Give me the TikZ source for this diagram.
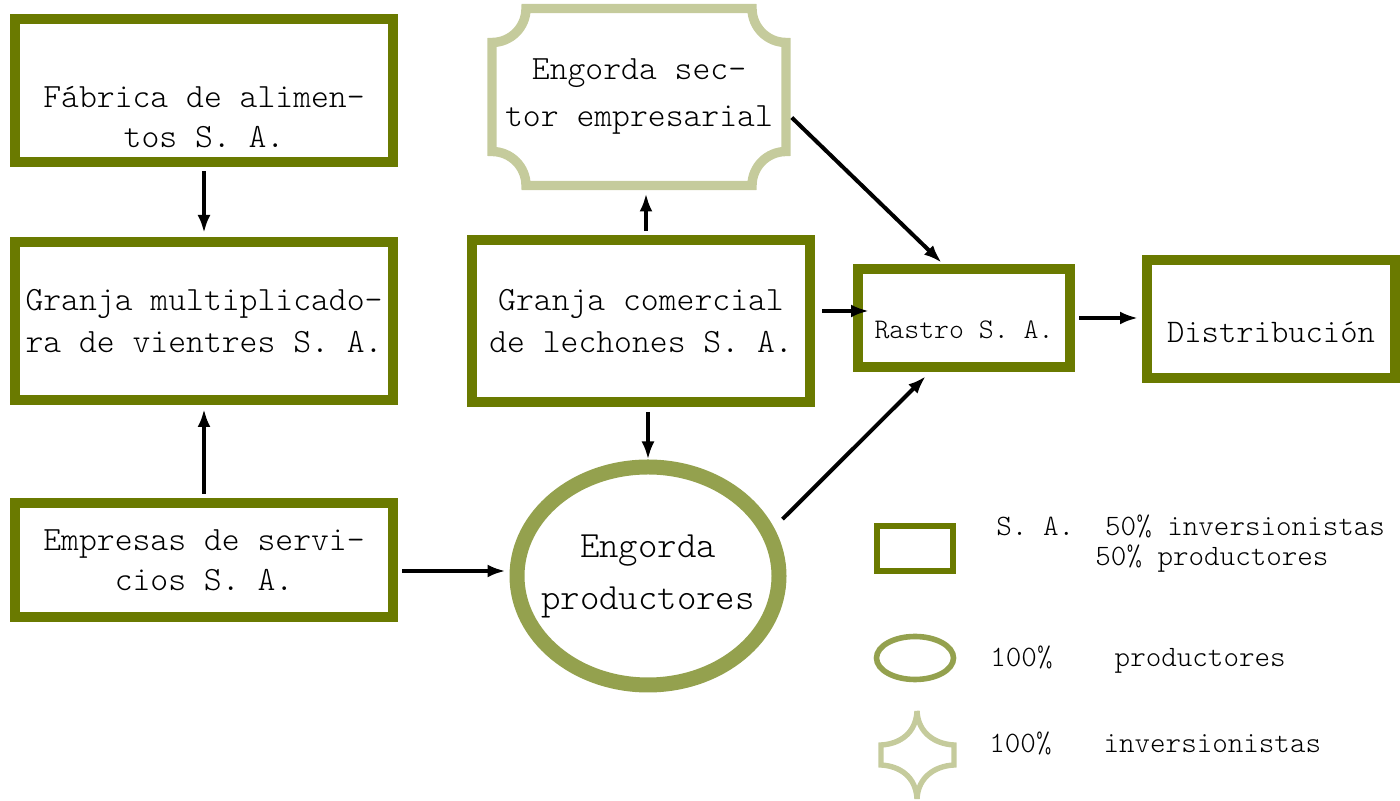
\documentclass[tikz,border=0pt]{standalone}
\usepackage{fontspec}
\newfontfamily\courfont{lmmonolt10-regular.otf}
\usetikzlibrary{arrows.meta,positioning,shapes.geometric}
\definecolor{OliveDark}{HTML}{6A7A00}
\definecolor{OliveMid}{HTML}{94A14E}
\definecolor{OliveLight}{HTML}{C5CB9C}
\newcommand{\boxfont}{\courfont\fontsize{17}{21}\selectfont}
\newcommand{\legfont}{\courfont\fontsize{14.8}{17}\selectfont}

\begin{document}
\begin{tikzpicture}[x=0.5pt,y=0.5pt,
    sabox/.style={rectangle,draw=OliveDark,line width=5pt,fill=white,
                  inner sep=0pt,align=center,font=\boxfont},
    lbl/.style={inner sep=0pt,align=center,font=\boxfont},
    legtxt/.style={inner sep=0pt,anchor=west,font=\legfont},
    flow/.style={line width=2pt,-{Latex[length=9pt,width=6.5pt]},
                 shorten <=2pt,shorten >=2pt}]
  \useasboundingbox (0,0) rectangle (1400,801);

  % sociedades anonimas
  \node[sabox,minimum width=189pt,minimum height=71.5pt] (fab) at (204,710) {};
  \node[lbl,font=\courfont\fontsize{17}{20}\selectfont] (fabtxt)
       at ([yshift=-13pt]fab.center) {Fábrica de alimen-\\tos S. A.};
  \node[sabox,minimum width=189pt,minimum height=79pt] (gmul) at (204,480)
       {Granja multiplicado-\\ra de vientres S. A.};
  \node[sabox,minimum width=189pt,minimum height=57pt,
        font=\courfont\fontsize{17}{20}\selectfont] (emp) at (204,241)
       {Empresas de servi-\\cios S. A.};
  \node[sabox,minimum width=169pt,minimum height=81pt] (gcom) at (641,480)
       {Granja comercial\\de lechones S. A.};
  \node[sabox,minimum width=106pt,minimum height=49pt] (rastro) at (964,483) {};
  \node[lbl,font=\courfont\fontsize{14.2}{15}\selectfont] (rastrotxt)
       at ([yshift=-6pt]rastro.center) {Rastro S. A.};
  \node[sabox,minimum width=124pt,minimum height=59pt] (dist) at (1271,482) {};
  \node[lbl,font=\courfont\fontsize{16.5}{18}\selectfont] (disttxt)
       at ([yshift=-6.5pt]dist.center) {Distribución};

  % inversionistas
  \node[lbl,minimum width=147pt,minimum height=88.5pt,outer sep=0pt,
        font=\courfont\fontsize{17}{23.5}\selectfont] (sector) at (639,704)
       {Engorda sec-\\tor empresarial};
  \draw[OliveLight,line width=4.7pt]
    ([yshift=-17pt]sector.north west) arc[start angle=-90,end angle=0,radius=17pt]
    -- ([xshift=-17pt]sector.north east) arc[start angle=180,end angle=270,radius=17pt]
    -- ([yshift=17pt]sector.south east) arc[start angle=90,end angle=180,radius=17pt]
    -- ([xshift=17pt]sector.south west) arc[start angle=0,end angle=90,radius=17pt]
    -- cycle;

  % productores
  \node[ellipse,draw=OliveMid,line width=7.5pt,minimum width=131pt,
        minimum height=109pt,inner sep=0pt] (prod) at (648,225) {};
  \node[lbl,font=\courfont\fontsize{18.5}{26}\selectfont] (prodtxt)
       at (prod.center) {Engorda\\productores};

  % flechas
  \draw[flow] (fab.south) -- (gmul.north);
  \draw[flow] (emp.north) -- (gmul.south);
  \draw[flow] ([yshift=-5.5pt]emp.east) -- ([yshift=-5.5pt]emp.east -| prod.west);
  \draw[flow,shorten >=4pt] ([xshift=2.5pt]gcom.north)
       -- ([xshift=2.5pt]gcom.north |- sector.south);
  \draw[flow,shorten <=2.5pt,shorten >=0pt] (gcom.south -| prod.north) -- (prod.north);
  \draw[flow,shorten <=3.5pt,shorten >=-8pt] ([yshift=5pt]gcom.east)
       -- ([yshift=5pt]gcom.east -| rastro.west);
  \draw[flow,shorten <=4pt,shorten >=1pt] ([yshift=-7.5pt]sector.east)
       -- ([xshift=-10.5pt]rastro.north);
  \draw[flow,shorten <=6pt,shorten >=3pt] (prod.21) -- ([xshift=-17pt]rastro.south);
  \draw[flow] (rastro.east) -- (rastro.east -| dist.west);

  % leyenda
  \node[sabox,line width=3pt,minimum width=38pt,minimum height=22.5pt] (legsa)
       at (915,252) {};
  \node[legtxt] (legsa1) at (996,275) {S.~A.~~50\% inversionistas};
  \node[legtxt] (legsa2) at (1095,242) {50\% productores};
  \node[ellipse,draw=OliveMid,line width=2.8pt,minimum width=38.5pt,
        minimum height=21.5pt,inner sep=0pt] (legprod) at (915,143) {};
  \node[legtxt] (legprodtxt) at (990,141) {100\%~~~~productores};
  \draw[OliveLight,line width=2.7pt,line join=miter]
    (917,90) .. controls (916,68) and (900,57) .. (881,56) -- (881,36)
    .. controls (900,35) and (916,24) .. (917,2)
    .. controls (918,24) and (935,35) .. (954,36) -- (954,56)
    .. controls (935,57) and (918,68) .. (917,90) -- cycle;
  \node[legtxt] (leginvtxt) at (989,58) {100\%\hspace{26pt}inversionistas};
\end{tikzpicture}
\end{document}
